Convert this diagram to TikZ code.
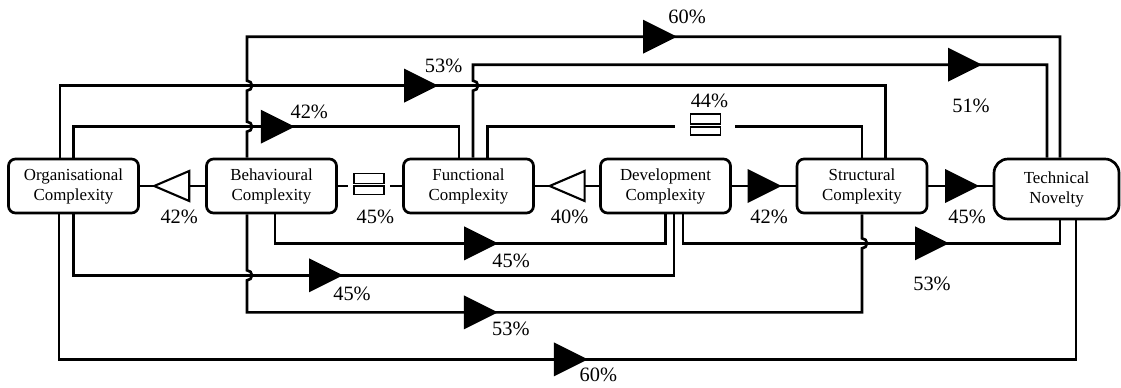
\documentclass[tikz,border=0pt]{standalone}
\usepackage{fontspec}
\setmainfont{Liberation Serif}
\usetikzlibrary{calc}
\tikzset{
  box/.style    ={draw,rounded corners=1.75mm,align=center,fill=white,
                  font=\fontsize{12}{14.2}\selectfont,line width=1.9pt,
                  minimum width=32.5mm,minimum height=13.5mm,inner sep=0pt},
  novel/.style  ={box,rounded corners=3.5mm,minimum width=31.25mm,minimum height=15mm},
  link/.style   ={draw,line width=1.9pt},
  pct/.style    ={font=\fontsize{14.5}{16}\selectfont,inner sep=0pt},
  hopup/.style  ={start angle=-90,end angle=90,radius=1.25mm},
  hopdn/.style  ={start angle=90,end angle=-90,radius=1.25mm},
  pics/fwd/.style={code={\fill (0,0) -- (-34,-17) -- (-34,17) -- cycle;}},
  pics/bwd/.style={code={\draw[fill=white,line width=1.5pt] (0,0) -- (35,-15) -- (35,15) -- cycle;}},
  pics/same/.style={code={\fill[white] (-16-#1,-14) rectangle (16+#1,10);
                    \draw[line width=1.3pt] (-15,-12.5) rectangle (15,-2.5) (-15,0) rectangle (15,8.5);}},
}

\begin{document}
\begin{tikzpicture}[x=0.25mm,y=-0.25mm]
\useasboundingbox (0,0) rectangle (1121,387);

\node[box] (org)    at (73.5,186)   {Organisational\\Complexity};
\node[box] (beh)    at (271.5,186)  {Behavioural\\Complexity};
\node[box] (func)   at (468.5,186)  {Functional\\Complexity};
\node[box] (dev)    at (665.5,186)  {Development\\Complexity};
\node[box] (struct) at (862,186)    {Structural\\Complexity};
\node[novel] (tech) at (1056.5,189) {Technical\\Novelty};

% middle row
\draw[link] (beh.west) -- coordinate[pos=0.78] (m1) (org.east);
\draw[link] (beh.east) -- coordinate[pos=0.49] (m2) (func.west);
\draw[link] (dev.west) -- coordinate[pos=0.77] (m3) (func.east);
\draw[link] (dev.east) -- coordinate[pos=0.78] (m4) (struct.west);
\draw[link] (struct.east) -- coordinate[pos=0.79] (m5) (struct.east -| tech.west);

% above the boxes
\draw[link] (org.north) |- coordinate[pos=0.787] (t1) ($(func.north)+(-9.5,-31)$) -- ($(func.north)+(-9.5,0)$);
\draw[link] ($(org.north)+(-13.5,0)$) |- coordinate[pos=0.729] (t2) ($(struct.north)+(23.5,-72)$) -- ($(struct.north)+(23.5,0)$);
\draw[link] ($(beh.north)+(-24.5,0)$) -- ++(0,-26) arc[hopup] -- ++(0,-31) arc[hopup] -- ++(0,-44)
  -| coordinate[pos=0.2645] (t3) ($(tech.north)+(3.5,0)$);
\draw[link] ($(func.north)+(4.5,0)$) -- ++(0,-67) arc[hopup] -- ++(0,-16)
  -| coordinate[pos=0.4434] (t4) ($(tech.north)+(-9.5,0)$);
\draw[link] ($(func.north)+(19,0)$) |- coordinate[pos=0.791] (t5) ($(struct.north)+(0,-31)$) -- (struct.north);

% below the boxes
\draw[link] ($(beh.south)+(3.5,0)$) |- coordinate[pos=0.7856] (b1) ($(dev.south)+(0,29)$) -- (dev.south);
\draw[link] (org.south) |- coordinate[pos=0.7244] (b2) ($(dev.south)+(8.5,61)$) -- ($(dev.south)+(8.5,0)$);
\draw[link] ($(beh.south)+(-24.5,0)$) -- ++(0,56) arc[hopdn] -- ++(0,32)
  -- coordinate[pos=0.408] (b3) ($(struct.south)+(0,98)$) -- ++(0,-64) arc[hopup] -- (struct.south);
\draw[link] ($(org.south)+(-14.5,0)$) |- coordinate[pos=0.76] (b4) ($(tech.south)+(19.5,139)$) -- ($(tech.south)+(19.5,0)$);
\draw[link] ($(dev.south)+(17.5,0)$) |- coordinate[pos=0.8528] (b5) ($(tech.south)+(3.5,23)$) -- ($(tech.south)+(3.5,0)$);

% arrowheads
\pic at (m1) {bwd};
\pic at (m2) {same=5};
\pic at (m3) {bwd};
\pic at (m4) {fwd};
\pic at (m5) {fwd};
\pic at (t1) {fwd};
\pic at (t2) {fwd};
\pic at (t3) {fwd};
\pic at (t4) {fwd};
\pic at (t5) {same=14};
\pic at (b1) {fwd};
\pic at (b2) {fwd};
\pic at (b3) {fwd};
\pic at (b4) {fwd};
\pic at (b5) {fwd};

% percentages
\node[pct] (pm1) at ($(m1)+(25,31)$)    {42\%};
\node[pct] (pm2) at ($(m2)+(6,31)$)     {45\%};
\node[pct] (pm3) at ($(m3)+(20,31)$)    {40\%};
\node[pct] (pm4) at ($(m4)+(-12.5,31)$) {42\%};
\node[pct] (pm5) at ($(m5)+(-12,31)$)   {45\%};
\node[pct] (pt1) at ($(t1)+(14.5,-15)$) {42\%};
\node[pct] (pt2) at ($(t2)+(5.5,-20)$)  {53\%};
\node[pct] (pt3) at ($(t3)+(10,-20)$)   {60\%};
\node[pct] (pt4) at ($(t4)+(-11,41)$)   {51\%};
\node[pct] (pt5) at ($(t5)+(4,-26)$)    {44\%};
\node[pct] (pb1) at ($(b1)+(13,18)$)    {45\%};
\node[pct] (pb2) at ($(b2)+(9,19)$)     {45\%};
\node[pct] (pb3) at ($(b3)+(13,17)$)    {53\%};
\node[pct] (pb4) at ($(b4)+(10.5,16)$)  {60\%};
\node[pct] (pb5) at ($(b5)+(-17,41)$)   {53\%};

\end{tikzpicture}
\end{document}
